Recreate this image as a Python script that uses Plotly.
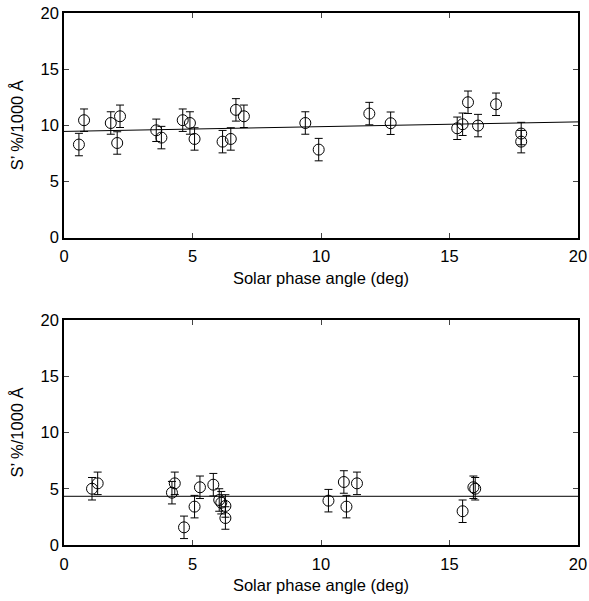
import plotly.graph_objects as go

# Top panel data
top_x = [0.58, 0.78, 1.82, 2.07, 2.18, 3.59, 3.79, 4.62, 4.90, 5.08, 6.17, 6.49, 6.69, 7.00,
         9.39, 9.91, 11.88, 12.71, 15.30, 15.51, 15.72, 16.11, 16.81, 17.79, 17.79]
top_y = [8.28, 10.45, 10.20, 8.42, 10.80, 9.55, 8.90, 10.45, 10.20, 8.78, 8.54, 8.78, 11.37, 10.80,
         10.20, 7.83, 11.04, 10.18, 9.73, 10.09, 12.05, 9.97, 11.87, 9.26, 8.54]
top_err = [1.0] * len(top_x)
top_fit_x = [0, 20]
top_fit_y = [9.45, 10.30]

# Bottom panel data
bot_x = [1.09, 1.31, 4.20, 4.31, 4.67, 5.08, 5.29, 5.81, 6.04, 6.12, 6.28, 6.28,
         10.29, 10.89, 10.99, 11.40, 15.51, 15.93, 16.00]
bot_y = [5.00, 5.48, 4.65, 5.48, 1.57, 3.41, 5.13, 5.36, 4.00, 3.76, 3.47, 2.40,
         3.94, 5.60, 3.41, 5.48, 3.00, 5.13, 5.00]
bot_err = [1.0] * len(bot_x)
bot_fit_x = [0, 20]
bot_fit_y = [4.33, 4.33]

x_ticks = [0, 5, 10, 15, 20]
y_ticks = [0, 5, 10, 15, 20]
x_title = "Solar phase angle (deg)"
y_title = "S\u2019 %/1000 Å"

fig = go.Figure()

def add_panel(xs, ys, errs, fx, fy, xa, ya):
    fig.add_trace(go.Scatter(x=fx, y=fy, mode="lines", line=dict(color="black", width=1),
                             xaxis=xa, yaxis=ya, showlegend=False, hoverinfo="skip"))
    fig.add_trace(go.Scatter(x=xs, y=ys, mode="markers",
                             marker=dict(symbol="circle-open", size=11, color="black",
                                         line=dict(width=1, color="black")),
                             error_y=dict(type="data", array=errs, visible=True, color="black",
                                          thickness=1, width=4),
                             xaxis=xa, yaxis=ya, showlegend=False))

add_panel(top_x, top_y, top_err, top_fit_x, top_fit_y, "x", "y")
add_panel(bot_x, bot_y, bot_err, bot_fit_x, bot_fit_y, "x2", "y2")

font = dict(family="Liberation Sans, Arial, sans-serif", size=16.5, color="black")

def xaxis_cfg(anchor):
    return dict(range=[0, 20], tickvals=x_ticks, ticks="inside", ticklen=5, tickwidth=1,
                showline=True, linecolor="black", linewidth=1.5, mirror="allticks",
                showgrid=False, zeroline=False, anchor=anchor, tickfont=font, automargin=False,
                ticklabelstandoff=3,
                title=dict(text=x_title, font=font, standoff=8))

def yaxis_cfg(anchor, domain):
    return dict(range=[0, 20], tickvals=y_ticks, ticks="inside", ticklen=5, tickwidth=1,
                showline=True, linecolor="black", linewidth=1.5, mirror="allticks",
                showgrid=False, zeroline=False, anchor=anchor, domain=domain, tickfont=font,
                automargin=False, title=dict(text=y_title, font=font, standoff=13))

fig.update_layout(
    width=589, height=601,
    margin=dict(l=64, r=11, t=13, b=56, autoexpand=False),
    paper_bgcolor="white", plot_bgcolor="white",
    font=font,
    xaxis=xaxis_cfg("y"),
    yaxis=yaxis_cfg("x", [0.578, 1.0]),
    xaxis2=xaxis_cfg("y2"),
    yaxis2=yaxis_cfg("x2", [0.0, 0.423]),
)

fig.write_html("out.html")
